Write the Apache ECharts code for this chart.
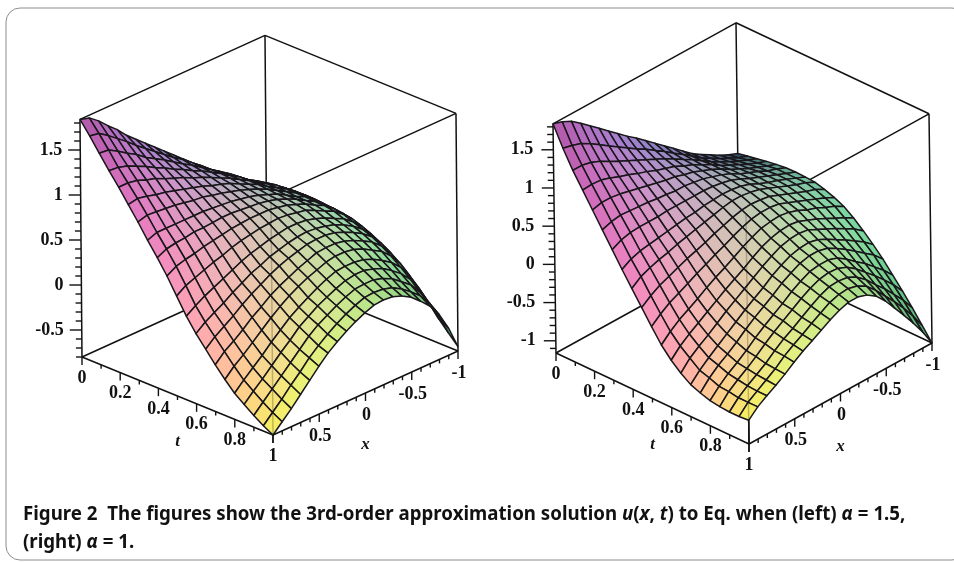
<!DOCTYPE html>
<html><head><meta charset="utf-8"><style>html,body{margin:0;background:#fff}#c{width:954px;height:562px}</style>
<script src="https://cdn.jsdelivr.net/npm/echarts@6/dist/echarts.min.js"></script></head><body><div id="c"></div><script>
// u(x,t): rows are t = 0 .. 1 (step 0.05), columns are x = 1 .. -1 (step -0.1)
const tGrid=[0,.05,.1,.15,.2,.25,.3,.35,.4,.45,.5,.55,.6,.65,.7,.75,.8,.85,.9,.95,1];
const xGrid=[1,.9,.8,.7,.6,.5,.4,.3,.2,.1,0,-.1,-.2,-.3,-.4,-.5,-.6,-.7,-.8,-.9,-1];
const uLeft=[
[1.84,1.81,1.73,1.63,1.54,1.43,1.34,1.25,1.16,1.07,.98,.89,.80,.71,.63,.54,.46,.39,.31,.24,.18],
[1.70,1.68,1.61,1.53,1.45,1.36,1.28,1.20,1.12,1.04,.97,.89,.81,.72,.65,.56,.49,.42,.34,.27,.20],
[1.55,1.54,1.48,1.41,1.35,1.27,1.21,1.15,1.08,1.01,.95,.88,.81,.73,.67,.59,.51,.45,.37,.30,.23],
[1.40,1.39,1.36,1.31,1.26,1.20,1.15,1.09,1.04,.98,.93,.87,.81,.74,.68,.60,.53,.47,.39,.32,.24],
[1.26,1.26,1.24,1.20,1.17,1.12,1.08,1.04,.99,.95,.90,.85,.80,.74,.68,.61,.55,.49,.41,.33,.24],
[1.11,1.13,1.11,1.08,1.06,1.03,1.00,.97,.94,.90,.87,.83,.78,.73,.68,.61,.55,.49,.41,.33,.24],
[.96,.99,.98,.97,.96,.94,.92,.91,.88,.86,.83,.80,.76,.72,.67,.61,.55,.49,.42,.33,.23],
[.80,.84,.84,.84,.84,.84,.84,.83,.82,.81,.79,.77,.74,.70,.66,.60,.54,.49,.41,.32,.21],
[.65,.70,.72,.73,.75,.75,.76,.77,.77,.76,.75,.74,.72,.69,.65,.60,.54,.48,.40,.31,.20],
[.49,.55,.58,.60,.63,.65,.67,.69,.70,.71,.71,.71,.69,.67,.63,.59,.53,.48,.40,.30,.18],
[.31,.38,.42,.46,.50,.53,.57,.60,.62,.64,.65,.66,.65,.63,.61,.56,.51,.46,.38,.28,.155],
[.13,.20,.26,.31,.36,.41,.46,.50,.53,.56,.58,.60,.60,.59,.56,.52,.47,.42,.34,.24,.11],
[-.02,.06,.12,.18,.25,.31,.37,.41,.46,.49,.52,.54,.55,.54,.52,.49,.44,.38,.30,.19,.05],
[-.15,-.06,.01,.08,.16,.23,.29,.35,.40,.44,.47,.50,.51,.51,.49,.45,.40,.34,.26,.14,-.01],
[-.28,-.18,-.11,-.03,.06,.13,.21,.27,.32,.37,.41,.45,.46,.46,.44,.40,.35,.29,.20,.07,-.09],
[-.40,-.30,-.22,-.13,-.04,.05,.13,.20,.26,.31,.35,.39,.41,.41,.39,.35,.29,.23,.13,0,-.18],
[-.51,-.41,-.32,-.23,-.13,-.04,.05,.12,.18,.24,.29,.33,.34,.34,.32,.28,.22,.15,.05,-.10,-.28],
[-.59,-.49,-.40,-.30,-.20,-.11,-.01,.06,.13,.18,.23,.27,.29,.29,.26,.22,.15,.07,-.04,-.20,-.40],
[-.67,-.57,-.47,-.37,-.27,-.17,-.07,.01,.07,.13,.18,.22,.23,.23,.20,.15,.07,-.01,-.14,-.31,-.53],
[-.74,-.64,-.54,-.43,-.33,-.22,-.13,-.05,.02,.08,.13,.17,.18,.17,.14,.08,0,-.09,-.22,-.41,-.64],
[-.80,-.70,-.60,-.49,-.38,-.27,-.17,-.09,-.02,.04,.09,.13,.14,.13,.09,.03,-.06,-.16,-.30,-.50,-.75]];
const uRight=[
[1.84,1.80,1.74,1.65,1.55,1.45,1.35,1.25,1.15,1.06,.96,.86,.76,.66,.56,.46,.38,.31,.24,.18,.13],
[1.58,1.55,1.51,1.44,1.36,1.28,1.20,1.12,1.04,.97,.89,.81,.72,.64,.55,.46,.39,.32,.26,.20,.155],
[1.35,1.35,1.32,1.27,1.20,1.14,1.08,1.02,.96,.90,.84,.77,.70,.63,.55,.47,.40,.34,.28,.23,.18],
[1.15,1.16,1.15,1.11,1.06,1.02,.97,.93,.88,.84,.80,.74,.69,.62,.56,.48,.42,.36,.30,.25,.205],
[.95,.98,.98,.96,.93,.90,.87,.84,.81,.79,.75,.72,.67,.62,.56,.49,.43,.37,.32,.27,.225],
[.75,.79,.81,.80,.79,.78,.76,.75,.73,.73,.71,.69,.65,.61,.56,.49,.44,.39,.33,.29,.24],
[.55,.61,.64,.65,.65,.65,.66,.66,.66,.66,.66,.65,.63,.60,.55,.49,.44,.39,.34,.29,.245],
[.35,.42,.46,.48,.50,.52,.54,.56,.57,.59,.60,.61,.60,.58,.54,.48,.43,.39,.34,.29,.24],
[.16,.25,.30,.34,.37,.41,.44,.47,.50,.53,.56,.58,.58,.56,.53,.48,.43,.38,.33,.29,.23],
[-.03,.06,.13,.18,.23,.28,.32,.36,.41,.45,.49,.52,.53,.52,.50,.45,.40,.35,.30,.26,.195],
[-.22,-.12,-.04,.02,.08,.145,.20,.26,.31,.37,.42,.46,.48,.48,.46,.41,.36,.31,.26,.21,.15],
[-.40,-.29,-.20,-.13,-.06,.02,.09,.15,.22,.29,.35,.40,.42,.43,.41,.37,.31,.27,.21,.16,.09],
[-.54,-.42,-.33,-.25,-.17,-.09,-.01,.06,.13,.21,.28,.33,.36,.37,.35,.30,.25,.19,.13,.07,0],
[-.65,-.52,-.43,-.35,-.26,-.17,-.09,-.01,.07,.15,.22,.28,.31,.32,.30,.24,.18,.12,.05,-.02,-.11],
[-.74,-.62,-.52,-.43,-.34,-.25,-.16,-.08,0,.09,.16,.22,.25,.26,.23,.17,.10,.03,-.05,-.13,-.23],
[-.79,-.66,-.56,-.48,-.39,-.29,-.20,-.12,-.04,.05,.12,.18,.21,.21,.18,.11,.03,-.06,-.15,-.24,-.36],
[-.83,-.71,-.61,-.53,-.44,-.34,-.25,-.17,-.09,0,.07,.13,.15,.15,.11,.03,-.07,-.16,-.27,-.38,-.51],
[-.85,-.72,-.63,-.55,-.46,-.36,-.27,-.19,-.11,-.03,.04,.09,.11,.10,.05,-.04,-.15,-.26,-.38,-.51,-.66],
[-.86,-.74,-.65,-.57,-.49,-.39,-.30,-.23,-.15,-.07,0,.05,.06,.04,-.02,-.12,-.25,-.37,-.51,-.65,-.82],
[-.86,-.74,-.66,-.58,-.50,-.40,-.32,-.25,-.17,-.10,-.03,.01,.02,-.01,-.08,-.20,-.34,-.48,-.63,-.80,-.99],
[-.85,-.74,-.66,-.59,-.51,-.42,-.34,-.27,-.20,-.13,-.07,-.03,-.03,-.07,-.15,-.28,-.44,-.60,-.77,-.95,-1.16]];
const uTicksLeft=[1.5,1,0.5,0,-0.5], uTicksRight=[1.5,1,0.5,0,-0.5,-1];
const tTicks=[0,0.2,0.4,0.6,0.8,1], xTicks=[0.5,0,-0.5,-1];
const captionText='Figure 2  The figures show the 3rd-order approximation solution {i|u}({i|x}, {i|t}) to Eq. when (left) {i|α} = 1.5,\n(right) {i|α} = 1.';

const views=[
 {o:[82,357],et:[191,78],ex:[185,-84],eu:[-.76,-90],umin:-.8,umax:1.84,U:uLeft,uT:uTicksLeft,tDy:46,xDy:52,uDx:-18},
 {o:[556,353],et:[193,91],ex:[183,-101],eu:[-1,-76.4],umin:-1.16,umax:1.84,U:uRight,uT:uTicksRight,tDy:46,xDy:53,uDx:-20}];
function P(v,x,t,u){const s=(1-x)/2,d=u-v.umin;return [v.o[0]+v.et[0]*t+v.ex[0]*s+v.eu[0]*d,v.o[1]+v.et[1]*t+v.ex[1]*s+v.eu[1]*d];}
const ramp=[[[175,85,165],[142,125,200],[40,65,85]],[[250,150,185],[205,200,180],[118,208,160]],[[245,240,90],[190,232,135],[70,165,105]]];
function q(a,b,c,k){return a*(1-k)*(1-2*k)+4*b*k*(1-k)+c*k*(2*k-1);}
function col(s,t){const r=[0,1,2].map(ch=>q(q(ramp[0][0][ch],ramp[0][1][ch],ramp[0][2][ch],s),q(ramp[1][0][ch],ramp[1][1][ch],ramp[1][2][ch],s),q(ramp[2][0][ch],ramp[2][1][ch],ramp[2][2][ch],s),t));
 return 'rgb('+r.map(n=>Math.max(0,Math.min(255,Math.round(n)))).join(',')+')';}
const under=[],over=[],cells=[],labels=[];
views.forEach((v,n)=>{const a=v.umin,b=v.umax;
 [[1,0],[-1,0],[-1,1],[1,1]].forEach(e=>under.push([n,e[0],e[1],a,e[0],e[1],b,1.5,1,0,0]));
 [a,b].forEach(u=>{[[1,0,-1,0],[-1,0,-1,1],[-1,1,1,1],[1,1,1,0]].forEach(e=>under.push([n,e[0],e[1],u,e[2],e[3],u,1.5,1,0,0]));});
 over.push([n,1,1,a,1,1,b,1.4,.25,0,0]);
 over.push([n,1,1,a,1,1,v.U[20][0],1.5,1,0,0]);
 for(let k=Math.ceil(a*10);k<=b*10;k++)over.push([n,1,0,k/10,1,0,k/10,1.4,1,0,k%5===0?12:6]);
 for(let k=0;k<=10;k++)over.push([n,1,k/10,a,1,k/10,a,1.4,1,1,k%2===0?8:4]);
 for(let k=-10;k<=10;k++)over.push([n,k/10,1,a,k/10,1,a,1.4,1,1,k%5===0?8:4]);
 for(let j=0;j<tGrid.length-1;j++)for(let i=xGrid.length-2;i>=0;i--)cells.push([n,j,i]);
 v.uT.forEach(u=>labels.push([n,0,u]));tTicks.forEach(t=>labels.push([n,1,t]));xTicks.forEach(x=>labels.push([n,2,x]));
 labels.push([n,3,.5]);labels.push([n,4,0]);
});
function lineItem(p,api){const v=views[api.value(0)];
 const ca=api.coord(P(v,api.value(1),api.value(2),api.value(3))),cb=api.coord(P(v,api.value(4),api.value(5),api.value(6)));
 const len=api.value(10),dir=api.value(9);
 if(len)return {type:'line',shape:dir===0?{x1:ca[0]-len,y1:ca[1],x2:ca[0],y2:ca[1]}:{x1:ca[0],y1:ca[1],x2:ca[0],y2:ca[1]+len},style:{stroke:'#111',lineWidth:api.value(7)}};
 return {type:'line',shape:{x1:ca[0],y1:ca[1],x2:cb[0],y2:cb[1]},style:{stroke:'rgba(17,17,17,'+api.value(8)+')',lineWidth:api.value(7)}};}
function cellItem(p,api){const v=views[api.value(0)],j=api.value(1),i=api.value(2),U=v.U;
 const pt=(jj,ii)=>api.coord(P(v,xGrid[ii],tGrid[jj],U[jj][ii]));
 return {type:'polygon',shape:{points:[pt(j,i),pt(j,i+1),pt(j+1,i+1),pt(j+1,i)]},
  style:{fill:col((i+.5)/20,(j+.5)/20),stroke:'#19171b',lineWidth:1.5,lineJoin:'round'}};}
function labelItem(p,api){const n=api.value(0),k=api.value(1),w=api.value(2),v=views[n];
 let c,txt=String(w),dx=0,dy=0;const style={font:'bold 18px "Liberation Serif"',fill:'#111',align:'center',verticalAlign:'middle'};
 if(k===0){c=P(v,1,0,w);dx=v.uDx;style.align='right';}
 if(k===1){c=P(v,1,w,v.umin);dy=21;}
 if(k===2){c=P(v,w,1,v.umin);dy=22;dx=1;}
 if(k===3){c=P(v,1,w,v.umin);dy=v.tDy;txt='t';style.font='italic bold 17px "Liberation Serif"';}
 if(k===4){c=P(v,w,1,v.umin);dy=v.xDy;txt='x';style.font='italic bold 17px "Liberation Serif"';}
 const pos=api.coord(c);return {type:'text',x:pos[0]+dx,y:pos[1]+dy,style:Object.assign({text:txt},style)};}
const chart=echarts.init(document.getElementById('c'));
chart.setOption({animation:false,
 grid:{left:0,top:0,right:0,bottom:0},
 xAxis:{type:'value',min:0,max:954,show:false},
 yAxis:{type:'value',min:0,max:562,inverse:true,show:false},
 title:{left:18,top:496,itemGap:0,text:captionText,
  textStyle:{fontFamily:'"Noto Sans"',fontWeight:'bold',fontSize:18.7,lineHeight:28,color:'#111',rich:{i:{fontStyle:'italic',fontWeight:'bold',fontFamily:'"Noto Sans"',fontSize:18.7,color:'#111'}}}},
 graphic:[{type:'rect',z:-1,shape:{x:6,y:8,width:960,height:552,r:14},style:{fill:'none',stroke:'#8c8c8c',lineWidth:1}}],
 series:[
  {type:'custom',renderItem:lineItem,data:under,z:1,silent:true},
  {type:'custom',renderItem:cellItem,data:cells,z:2,silent:true,progressive:0},
  {type:'custom',renderItem:lineItem,data:over,z:3,silent:true},
  {type:'custom',renderItem:labelItem,data:labels,z:4,silent:true}
 ]});
</script></body></html>
